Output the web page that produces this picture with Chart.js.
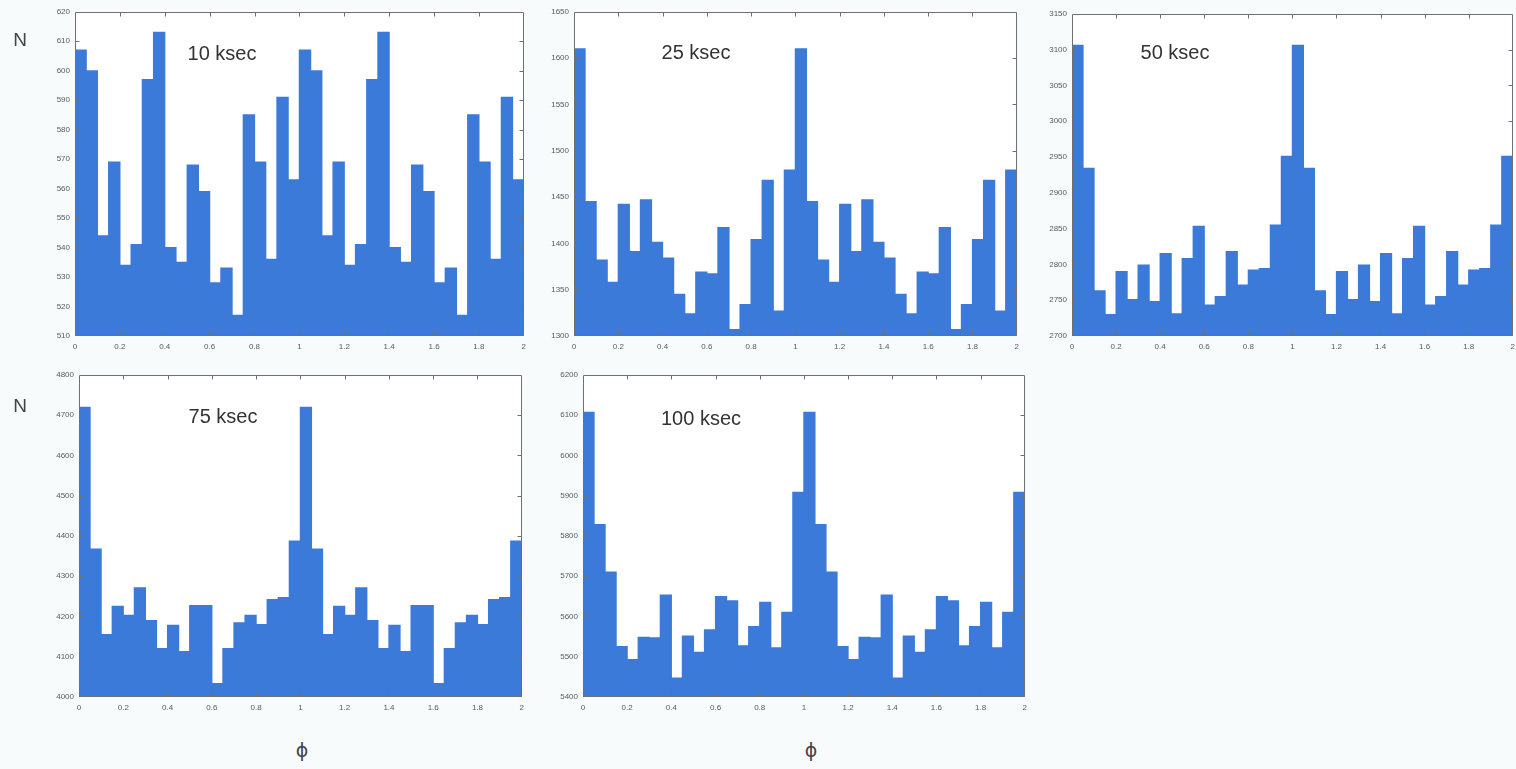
<!DOCTYPE html>
<html>
<head>
<meta charset="utf-8">
<script src="https://cdn.jsdelivr.net/npm/chart.js@4.4.1/dist/chart.umd.min.js"></script>
<style>
  html, body { margin: 0; padding: 0; }
  body {
    width: 1516px; height: 769px; overflow: hidden; position: relative;
    background: #f8fbfb;
    font-family: "Liberation Sans", Arial, Helvetica, sans-serif;
  }
  .panel { position: absolute; }
  .panel canvas { display: block; }
  .lbl {
    position: absolute; white-space: nowrap; color: #333;
    transform: translate(-50%, -50%); line-height: 1;
  }
  .title { font-size: 20px; }
  .axis { font-size: 19px; color: #444; }
  .phi { font-family: "DejaVu Sans", sans-serif; font-size: 19px; color: #444; }
</style>
</head>
<body>
<script>
// Phase bin centres (bin width 0.05, two cycles shown)
const phaseBins = [
  0.025, 0.075, 0.125, 0.175, 0.225, 0.275, 0.325, 0.375, 0.425, 0.475,
  0.525, 0.575, 0.625, 0.675, 0.725, 0.775, 0.825, 0.875, 0.925, 0.975,
  1.025, 1.075, 1.125, 1.175, 1.225, 1.275, 1.325, 1.375, 1.425, 1.475,
  1.525, 1.575, 1.625, 1.675, 1.725, 1.775, 1.825, 1.875, 1.925, 1.975
];

// Counts per phase bin for each exposure
const counts10 = [
  607, 600, 544, 569, 534, 541, 597, 613, 540, 535,
  568, 559, 528, 533, 517, 585, 569, 536, 591, 563,
  607, 600, 544, 569, 534, 541, 597, 613, 540, 535,
  568, 559, 528, 533, 517, 585, 569, 536, 591, 563
];
const counts25 = [
  1610, 1445, 1382, 1358, 1442, 1391, 1447, 1401, 1384, 1345,
  1324, 1369, 1367, 1417, 1307, 1334, 1404, 1468, 1327, 1479,
  1610, 1445, 1382, 1358, 1442, 1391, 1447, 1401, 1384, 1345,
  1324, 1369, 1367, 1417, 1307, 1334, 1404, 1468, 1327, 1479
];
const counts50 = [
  3106, 2934, 2763, 2730, 2790, 2751, 2799, 2748, 2815, 2731,
  2808, 2853, 2743, 2755, 2818, 2771, 2792, 2794, 2855, 2951,
  3106, 2934, 2763, 2730, 2790, 2751, 2799, 2748, 2815, 2731,
  2808, 2853, 2743, 2755, 2818, 2771, 2792, 2794, 2855, 2951
];
const counts75 = [
  4719, 4367, 4155, 4225, 4203, 4271, 4190, 4120, 4178, 4113,
  4227, 4227, 4033, 4120, 4184, 4203, 4180, 4242, 4247, 4387,
  4719, 4367, 4155, 4225, 4203, 4271, 4190, 4120, 4178, 4113,
  4227, 4227, 4033, 4120, 4184, 4203, 4180, 4242, 4247, 4387
];
const counts100 = [
  6107, 5828, 5710, 5525, 5493, 5548, 5547, 5653, 5447, 5551,
  5511, 5567, 5649, 5639, 5527, 5575, 5635, 5522, 5610, 5908,
  6107, 5828, 5710, 5525, 5493, 5548, 5547, 5653, 5447, 5551,
  5511, 5567, 5649, 5639, 5527, 5575, 5635, 5522, 5610, 5908
];

// Exposure labels
const exposures = ["10 ksec", "25 ksec", "50 ksec", "75 ksec", "100 ksec"];

// Count-axis ranges: [min, max, step]
const yRange10  = [510, 620, 10];
const yRange25  = [1300, 1650, 50];
const yRange50  = [2700, 3150, 50];
const yRange75  = [4000, 4800, 100];
const yRange100 = [5400, 6200, 100];

// Phase-axis range: [min, max, step]
const xRange = [0, 2, 0.2];

// Plot rectangles on the page (left, top, right, bottom)
const panels = [
  { counts: counts10,  y: yRange10,  box: { l: 75,   t: 10,  r: 524,  b: 336 }, title: { x: 222,  y: 53 } },
  { counts: counts25,  y: yRange25,  box: { l: 574,  t: 10,  r: 1017, b: 336 }, title: { x: 696,  y: 52 } },
  { counts: counts50,  y: yRange50,  box: { l: 1072, t: 12,  r: 1513, b: 336 }, title: { x: 1175, y: 52 } },
  { counts: counts75,  y: yRange75,  box: { l: 79,   t: 373, r: 522,  b: 697 }, title: { x: 223,  y: 416 } },
  { counts: counts100, y: yRange100, box: { l: 583,  t: 373, r: 1025, b: 697 }, title: { x: 701,  y: 418 } }
];

const BAR_COLOR = '#3b7ad9';
const FRAME_COLOR = '#707070';
const TICK_FONT = { family: '"Liberation Sans", Arial, sans-serif', size: 8 };

// Box frame with short inward ticks (interior ticks only)
const framePlugin = {
  id: 'frame',
  afterDatasetsDraw(chart) {
    const { ctx, chartArea: a, scales } = chart;
    ctx.save();
    ctx.strokeStyle = FRAME_COLOR;
    ctx.lineWidth = 1;
    const L = Math.round(a.left) + 0.5, R = Math.round(a.right) - 0.5;
    const T = Math.round(a.top) + 0.5, B = Math.round(a.bottom) - 0.5;
    ctx.beginPath();
    ctx.rect(L, T, R - L, B - T);
    const len = 4;
    const xt = scales.x.ticks, yt = scales.y.ticks;
    xt.slice(1, -1).forEach(t => {
      const px = Math.round(scales.x.getPixelForValue(t.value)) + 0.5;
      ctx.moveTo(px, T); ctx.lineTo(px, T + len);
      ctx.moveTo(px, B); ctx.lineTo(px, B - len);
    });
    yt.slice(1, -1).forEach(t => {
      const py = Math.round(scales.y.getPixelForValue(t.value)) + 0.5;
      ctx.moveTo(L, py); ctx.lineTo(L + len, py);
      ctx.moveTo(R, py); ctx.lineTo(R - len, py);
    });
    ctx.stroke();
    ctx.restore();
  }
};

// White plot background
const bgPlugin = {
  id: 'plotBg',
  beforeDatasetsDraw(chart) {
    const { ctx, chartArea: a } = chart;
    ctx.save();
    ctx.fillStyle = '#ffffff';
    ctx.fillRect(a.left, a.top, a.right - a.left, a.bottom - a.top);
    ctx.restore();
  }
};

const Y_W = 40, X_H = 22, PAD_T = 8, PAD_R = 8;

function fmt(v) { return String(Number(Number(v).toFixed(2))); }

panels.forEach((p, i) => {
  const box = p.box;
  const w = box.r - box.l + Y_W + PAD_R;
  const h = box.b - box.t + PAD_T + X_H;
  const wrap = document.createElement('div');
  wrap.className = 'panel';
  wrap.style.left = (box.l - Y_W) + 'px';
  wrap.style.top = (box.t - PAD_T) + 'px';
  wrap.style.width = w + 'px';
  wrap.style.height = h + 'px';
  const cv = document.createElement('canvas');
  cv.width = w; cv.height = h;
  cv.style.width = w + 'px'; cv.style.height = h + 'px';
  wrap.appendChild(cv);
  document.body.appendChild(wrap);

  new Chart(cv, {
    type: 'bar',
    data: {
      datasets: [{
        data: phaseBins.map((x, k) => ({ x: x, y: p.counts[k] })),
        backgroundColor: BAR_COLOR,
        borderWidth: 0,
        barPercentage: 1,
        categoryPercentage: 1,
        inflateAmount: 0.6,
        base: p.y[0]
      }]
    },
    options: {
      responsive: false,
      animation: false,
      devicePixelRatio: 1,
      layout: { padding: { top: PAD_T, right: PAD_R, left: 0, bottom: 0 } },
      plugins: { legend: { display: false }, tooltip: { enabled: false } },
      scales: {
        x: {
          type: 'linear', min: xRange[0], max: xRange[1], offset: false,
          grid: { display: false, drawTicks: false, offset: false }, border: { display: false },
          ticks: {
            stepSize: xRange[2], autoSkip: false, maxRotation: 0,
            font: TICK_FONT, color: '#5a5a5a', padding: 6,
            callback: v => fmt(v)
          },
          afterFit(s) { s.height = X_H; }
        },
        y: {
          min: p.y[0], max: p.y[1],
          grid: { display: false, drawTicks: false }, border: { display: false },
          ticks: {
            stepSize: p.y[2], autoSkip: false,
            font: TICK_FONT, color: '#5a5a5a', padding: 5,
            callback: v => fmt(v)
          },
          afterFit(s) { s.width = Y_W; }
        }
      }
    },
    plugins: [bgPlugin, framePlugin]
  });

  const t = document.createElement('div');
  t.className = 'lbl title';
  t.style.left = p.title.x + 'px';
  t.style.top = p.title.y + 'px';
  t.textContent = exposures[i];
  document.body.appendChild(t);
});

// Axis names
[
  { text: 'N', x: 20, y: 39, cls: 'axis' },
  { text: 'N', x: 20, y: 405, cls: 'axis' },
  { text: '\u03D5', x: 302, y: 750, cls: 'phi' },
  { text: '\u03D5', x: 811, y: 750, cls: 'phi' }
].forEach(o => {
  const d = document.createElement('div');
  d.className = 'lbl ' + o.cls;
  d.style.left = o.x + 'px';
  d.style.top = o.y + 'px';
  d.textContent = o.text;
  document.body.appendChild(d);
});
</script>
</body>
</html>
